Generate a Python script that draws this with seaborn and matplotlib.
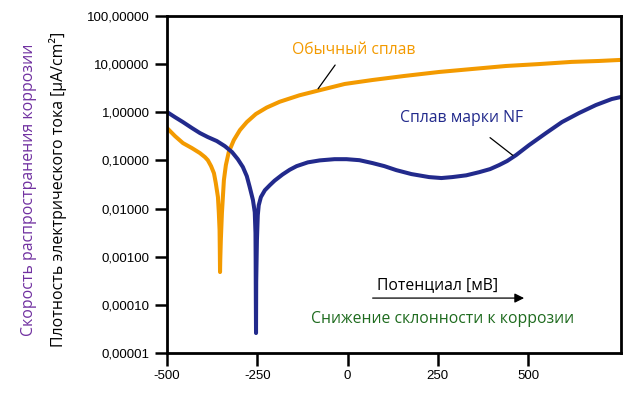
import numpy as np
import pandas as pd
import seaborn as sns
import matplotlib
matplotlib.use("Agg")
from matplotlib import pyplot as plt
from matplotlib.ticker import FixedLocator, NullLocator

# Potential [mV] and current density [uA/cm2]
nf_potential = [-500, -478, -456, -431, -409, -387, -362, -340, -320, -304, -290, -279, -271, -262,
                -257, -255, -254.5, -254, -253.5, -253, -251, -248.6, -246, -240, -229, -215, -202,
                -180, -160, -141, -110, -77, -36, -3, 33, 69, 102, 135, 177, 226, 260, 290, 329,
                365, 395, 420, 442, 467, 503, 550, 594, 641, 688, 732, 757]
nf_current = [1.01, 0.79, 0.625, 0.47, 0.37, 0.305, 0.252, 0.198, 0.149, 0.106, 0.073, 0.047,
              0.028, 0.015, 0.0084, 0.0031, 0.00085, 0.00012, 0.000026, 0.0003, 0.0022, 0.0073,
              0.0117, 0.0173, 0.024, 0.0307, 0.038, 0.051, 0.064, 0.076, 0.091, 0.100, 0.106,
              0.106, 0.101, 0.088, 0.076, 0.0628, 0.052, 0.045, 0.043, 0.045, 0.049, 0.057,
              0.066, 0.080, 0.097, 0.129, 0.208, 0.37, 0.625, 0.96, 1.41, 1.88, 2.07]

std_potential = [-500, -478, -456, -431, -409, -395, -387, -378, -370, -365, -359, -356.6, -354.5,
                 -353.8, -353.2, -352.5, -351, -348, -345, -342.5, -337, -329, -315, -298, -279,
                 -254, -224, -188, -133, -86, -8, 69, 157, 254, 345, 439, 530, 621, 696, 757]
std_current = [0.47, 0.32, 0.229, 0.18, 0.142, 0.117, 0.101, 0.076, 0.054, 0.034, 0.0173, 0.0084,
               0.0036, 0.00136, 0.00048, 0.0009, 0.0022, 0.008, 0.019, 0.039, 0.080, 0.149,
               0.264, 0.427, 0.625, 0.918, 1.25, 1.65, 2.25, 2.76, 3.86, 4.67, 5.66, 6.86, 7.9,
               9.13, 10.0, 11.1, 11.6, 12.2]

x_ticks = [-500, -250, 0, 250, 500]
y_ticks = [0.00001, 0.0001, 0.001, 0.01, 0.1, 1, 10, 100]
y_tick_labels = ["0,00001", "0,00010", "0,00100", "0,01000", "0,10000", "1,00000", "10,00000", "100,00000"]

orange = "#F39A00"
navy = "#222A8C"

nf = pd.DataFrame({"potential": nf_potential, "current": nf_current})
std = pd.DataFrame({"potential": std_potential, "current": std_current})

sns.set_style("white")
plt.rcParams['font.family'] = ['Liberation Sans', 'DejaVu Sans']

fig = plt.figure(figsize=(6.4, 3.98), dpi=100)
ax = fig.add_axes([0.261, 0.113, 0.709, 0.847])

sns.lineplot(data=std, x="potential", y="current", ax=ax, color=orange, lw=2.9,
             estimator=None, sort=False, solid_capstyle="round", solid_joinstyle="round")
sns.lineplot(data=nf, x="potential", y="current", ax=ax, color=navy, lw=2.9,
             estimator=None, sort=False, solid_capstyle="round", solid_joinstyle="round")

ax.set_yscale("log")
ax.set_xlim(-500, 757)
ax.set_ylim(1e-5, 100)
ax.xaxis.set_major_locator(FixedLocator(x_ticks))
ax.set_xticklabels([str(v) for v in x_ticks])
ax.yaxis.set_major_locator(FixedLocator(y_ticks))
ax.yaxis.set_minor_locator(NullLocator())
ax.set_yticklabels(y_tick_labels)
ax.set_xlabel("")
ax.set_ylabel("")
ax.tick_params(axis="both", direction="out", length=9, width=1.8, color="black",
               labelsize=9.5, labelcolor="black", bottom=True, left=True)
for s in ax.spines.values():
    s.set_color("black")
    s.set_linewidth(2)

txt_font = ['Open Sans', 'DejaVu Sans']

# y axis titles
fig.text(0.091, 0.523, "Плотность электрического тока [µA/cm²]", rotation=90,
         ha="center", va="center", fontsize=11.4, color="black", family=txt_font)
fig.text(0.046, 0.523, "Скорость распространения коррозии", rotation=90,
         ha="center", va="center", fontsize=11.4, color="#7030A0", family=txt_font)

# curve labels
ax.text(0.411, 0.899, "Обычный сплав", transform=ax.transAxes, ha="center", va="center",
        fontsize=11.3, color=orange, family=txt_font)
ax.annotate("", xy=(-86, 2.76), xytext=(0.374, 0.861), textcoords="axes fraction",
            arrowprops=dict(arrowstyle="-", lw=0.9, color="black"))
ax.text(0.649, 0.697, "Сплав марки NF", transform=ax.transAxes, ha="center", va="center",
        fontsize=11.3, color=navy, family=txt_font)
ax.annotate("", xy=(464, 0.117), xytext=(0.707, 0.644), textcoords="axes fraction",
            arrowprops=dict(arrowstyle="-", lw=0.9, color="black"))

# potential arrow
ax.text(0.597, 0.202, "Потенциал [мВ]", transform=ax.transAxes, ha="center", va="center",
        fontsize=11.3, color="black", family=txt_font)
ax.annotate("", xy=(0.793, 0.163), xytext=(0.447, 0.163), xycoords="axes fraction",
            textcoords="axes fraction",
            arrowprops=dict(arrowstyle="-|>", lw=0.9, color="black", mutation_scale=14))
ax.text(0.608, 0.101, "Снижение склонности к коррозии", transform=ax.transAxes, ha="center",
        va="center", fontsize=11.3, color="#1E6B1E", family=txt_font)

fig.savefig("out.png", dpi=100)
